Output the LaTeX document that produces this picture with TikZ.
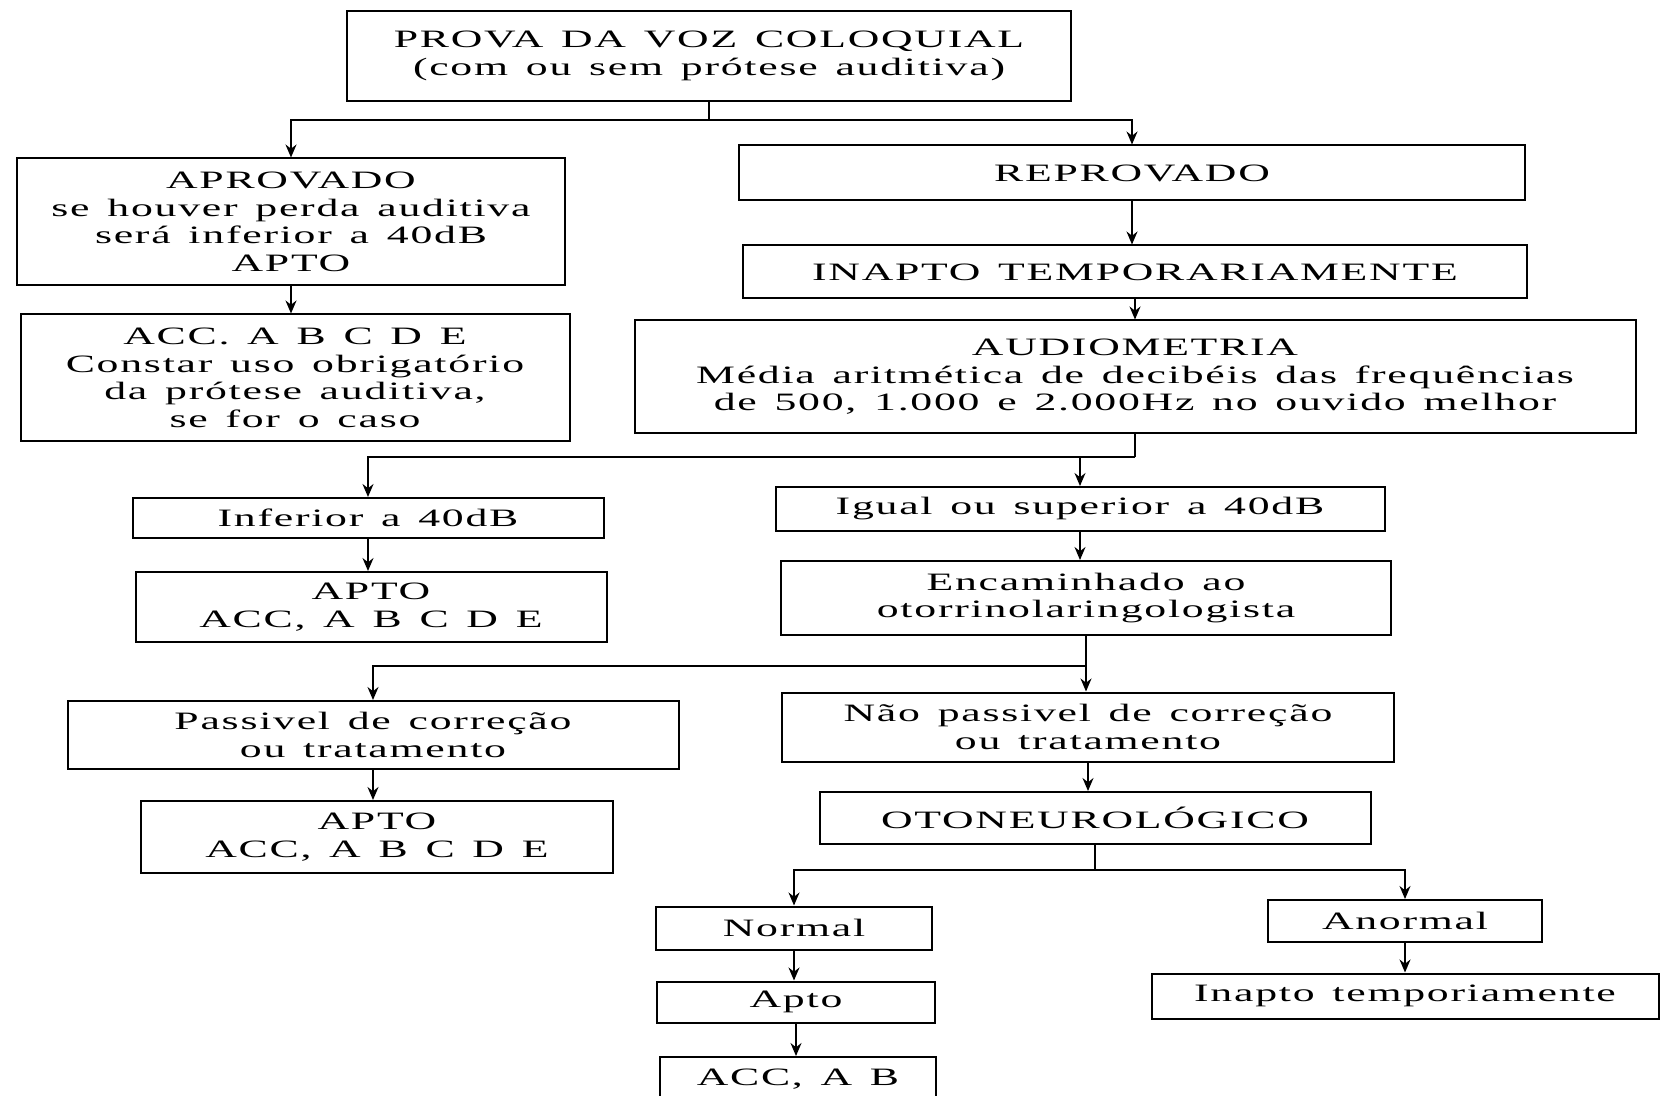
\documentclass[tikz,border=0pt]{standalone}
\usepackage{fontspec}
\setmainfont[FakeStretch=1.75,LetterSpace=7,WordSpace=1.4]{Liberation Serif}
\usetikzlibrary{arrows.meta}

\begin{document}
\begin{tikzpicture}[x=0.5pt,y=-0.5pt,
  caixa/.style={draw=black,line width=1pt,inner sep=0pt,align=center,
    font=\fontsize{12.5}{13.8}\selectfont},
  seta/.style={line width=0.75pt,>={Stealth[length=6.5pt,width=5.5pt]},->,draw=black},
  linha/.style={line width=0.75pt,draw=black}]

\useasboundingbox (0,0) rectangle (1660,1096);

% ------------------------------------------------ prova inicial
\node[caixa,minimum width=362pt,minimum height=45pt] (prova) at (709,56)
  {PROVA DA VOZ COLOQUIAL\\(com ou sem prótese auditiva)};

% ------------------------------------------------ ramo aprovado
\node[caixa,minimum width=274pt,minimum height=63.5pt] (aprov) at (291,222)
  {APROVADO\\se houver perda auditiva\\será inferior a 40dB\\APTO};
\node[caixa,minimum width=274.5pt,minimum height=63.5pt] (accA) at (295,378)
  {ACC. A B C D E\\Constar uso obrigatório\\da prótese auditiva,\\se for o caso};

% ------------------------------------------------ ramo reprovado
\node[caixa,minimum width=393pt,minimum height=27.5pt] (reprov) at (1132,173) {REPROVADO};
\node[caixa,minimum width=392pt,minimum height=26.5pt] (inapto) at (1135,272) {INAPTO TEMPORARIAMENTE};
\node[caixa,minimum width=500.5pt,minimum height=56.5pt] (audio) at (1135,377)
  {AUDIOMETRIA\\Média aritmética de decibéis das frequências\\de 500, 1.000 e 2.000Hz no ouvido melhor};

% ------------------------------------------------ audiometria
\node[caixa,minimum width=235.5pt,minimum height=20pt] (inferior) at (368,518) {Inferior a 40dB};
\node[caixa,minimum width=235.5pt,minimum height=35pt] (aptoA) at (371,607) {APTO\\ACC, A B C D E};
\node[caixa,minimum width=304.5pt,minimum height=22pt] (igual) at (1080,509) {Igual ou superior a 40dB};
\node[caixa,minimum width=305pt,minimum height=37pt] (encam) at (1086,598)
  {Encaminhado ao\\otorrinolaringologista};

% ------------------------------------------------ correcao
\node[caixa,minimum width=305.5pt,minimum height=34pt] (passivel) at (373,735)
  {Passivel de correção\\ou tratamento};
\node[caixa,minimum width=236pt,minimum height=36pt] (aptoB) at (377,837) {APTO\\ACC, A B C D E};
\node[caixa,minimum width=306pt,minimum height=34.5pt] (naopass) at (1088,727)
  {Não passivel de correção\\ou tratamento};
\node[caixa,minimum width=275.5pt,minimum height=26pt] (otoneuro) at (1095,818) {OTONEUROLÓGICO};

% ------------------------------------------------ otoneurologico
\node[caixa,minimum width=138pt,minimum height=21.5pt] (normal) at (794,928) {Normal};
\node[caixa,minimum width=139pt,minimum height=20.5pt] (aptoC) at (796,1002) {Apto};
\node[caixa,minimum width=138pt,minimum height=22pt] (accB) at (798,1079) {ACC, A B};
\node[caixa,minimum width=137pt,minimum height=21pt] (anormal) at (1405,921) {Anormal};
\node[caixa,minimum width=253.5pt,minimum height=22.5pt] (inaptoT) at (1405,996) {Inapto temporiamente};

% forks
\coordinate (f1) at (709,120);
\coordinate (f2) at (1135,457);
\coordinate (f3) at (1086,666);
\coordinate (f4) at (1095,870);

\draw[linha] (prova.south) -- (f1);
\draw[seta] (f1) -| (aprov.north);
\draw[seta] (f1) -| (reprov.north);

\draw[linha] (audio.south) -- (f2);
\draw[seta] (f2) -| (inferior.north);
\draw[seta] (f2) -| (igual.north);

\draw[linha] (encam.south) -- (f3);
\draw[seta] (f3) -- (f3 |- naopass.north);
\draw[seta] (f3) -| (passivel.north);

\draw[linha] (otoneuro.south) -- (f4);
\draw[seta] (f4) -| (normal.north);
\draw[seta] (f4) -| (anormal.north);

% straight arrows
\foreach \a/\b in {aprov/accA,reprov/inapto,inapto/audio,inferior/aptoA,igual/encam,
                   passivel/aptoB,naopass/otoneuro,normal/aptoC,aptoC/accB,anormal/inaptoT}
  \draw[seta] (\a.south) -- (\a.south |- \b.north);

\end{tikzpicture}
\end{document}
